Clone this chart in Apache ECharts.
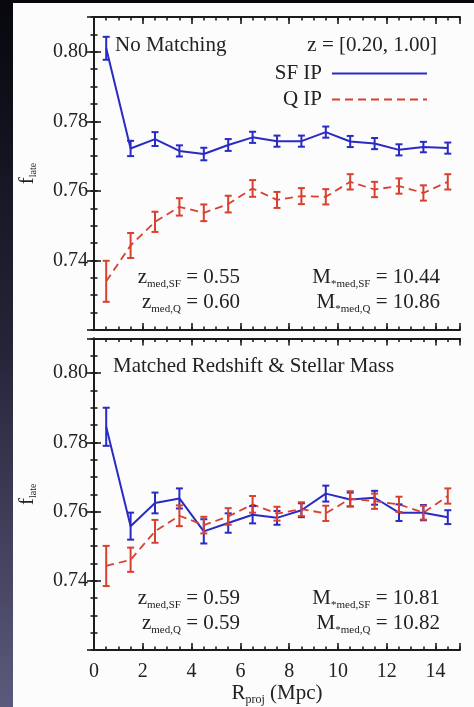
<!DOCTYPE html>
<html>
<head>
<meta charset="utf-8">
<script src="https://cdn.jsdelivr.net/npm/echarts@6/dist/echarts.min.js"></script>
<style>
  html, body { margin: 0; padding: 0; background: #0b0b12; }
  #chart { width: 474px; height: 707px; }
</style>
</head>
<body>
<div id="chart"></div>
<script>
// Projected separation bins (Mpc)
const rProj = [0.5, 1.5, 2.5, 3.5, 4.5, 5.5, 6.5, 7.5, 8.5, 9.5, 10.5, 11.5, 12.5, 13.5, 14.5];

// Upper panel: no matching
const sfNoMatch    = [0.8010, 0.7722, 0.7749, 0.7715, 0.7706, 0.7732, 0.7754, 0.7743, 0.7743, 0.7769, 0.7742, 0.7736, 0.7718, 0.7726, 0.7723];
const sfNoMatchErr = [0.0033, 0.0022, 0.0020, 0.0016, 0.0018, 0.0017, 0.0016, 0.0016, 0.0016, 0.0016, 0.0016, 0.0016, 0.0016, 0.0015, 0.0016];
const qNoMatch     = [0.7340, 0.7443, 0.7511, 0.7554, 0.7537, 0.7562, 0.7607, 0.7574, 0.7585, 0.7583, 0.7626, 0.7604, 0.7614, 0.7594, 0.7626];
const qNoMatchErr  = [0.0059, 0.0036, 0.0029, 0.0025, 0.0024, 0.0024, 0.0024, 0.0023, 0.0023, 0.0022, 0.0022, 0.0022, 0.0022, 0.0022, 0.0022];

// Lower panel: matched redshift & stellar mass
const sfMatched    = [0.7845, 0.7558, 0.7625, 0.7638, 0.7543, 0.7567, 0.7591, 0.7582, 0.7604, 0.7652, 0.7635, 0.7640, 0.7597, 0.7597, 0.7584];
const sfMatchedErr = [0.0055, 0.0039, 0.0030, 0.0029, 0.0035, 0.0028, 0.0025, 0.0020, 0.0020, 0.0023, 0.0020, 0.0020, 0.0024, 0.0022, 0.0020];
const qMatched     = [0.7443, 0.7461, 0.7543, 0.7588, 0.7561, 0.7586, 0.7621, 0.7594, 0.7607, 0.7595, 0.7637, 0.7630, 0.7621, 0.7597, 0.7645];
const qMatchedErr  = [0.0058, 0.0035, 0.0033, 0.0030, 0.0024, 0.0024, 0.0024, 0.0020, 0.0020, 0.0022, 0.0022, 0.0022, 0.0022, 0.0020, 0.0022];

// Tick labels
const xTickLabels = ['0', '2', '4', '6', '8', '10', '12', '14'];
const yTickLabels = ['0.74', '0.76', '0.78', '0.80'];

// Panel annotations
const panelTitles = ['No Matching', 'Matched Redshift & Stellar Mass'];
const redshiftRange = 'z = [0.20, 1.00]';
const zMedSF = ['0.55', '0.59'];
const zMedQ  = ['0.60', '0.59'];
const mMedSF = ['10.44', '10.81'];
const mMedQ  = ['10.86', '10.82'];

const FONT = "'Liberation Serif', 'Times New Roman', serif";
const INK = '#222';
const AXIS = '#1c1c1c';
const BLUE = '#2a2ac4';
const RED = '#d8402f';

const GRID_LEFT = 94, GRID_W = 366, GRID_H = 313;
const GRID_TOPS = [17, 338.5];

const chart = echarts.init(document.getElementById('chart'), null, { renderer: 'canvas' });

function xAxesFor(g, withLabels) {
  const base = { type: 'value', gridIndex: g, min: 0, max: 15, splitLine: { show: false } };
  const line = { show: true, lineStyle: { color: AXIS, width: 2 } };
  const major = { show: true, inside: true, length: 7, lineStyle: { color: AXIS, width: 1.6 } };
  const minor = { show: true, inside: true, length: 3.5, lineStyle: { color: AXIS, width: 1.6 } };
  return [
    Object.assign({}, base, {
      position: 'bottom', interval: 2, axisLine: line, axisTick: major,
      axisLabel: {
        show: withLabels, margin: 12, fontFamily: FONT, fontSize: 20, color: INK,
        formatter: v => xTickLabels.includes(String(v)) ? String(v) : ''
      },
      name: withLabels ? '{m|R}{s|proj}{m| (Mpc)}' : '',
      nameLocation: 'middle', nameGap: 26,
      nameTextStyle: {
        rich: {
          m: { fontFamily: FONT, fontSize: 21, color: INK },
          s: { fontFamily: FONT, fontSize: 12, color: INK, padding: [13, 0, 0, 0] }
        }
      }
    }),
    Object.assign({}, base, { position: 'bottom', interval: 0.5, axisLine: { show: false }, axisTick: minor, axisLabel: { show: false } }),
    Object.assign({}, base, { position: 'top', interval: 2, axisLine: line, axisTick: major, axisLabel: { show: false } }),
    Object.assign({}, base, { position: 'top', interval: 0.5, axisLine: { show: false }, axisTick: minor, axisLabel: { show: false } })
  ];
}

function yAxesFor(g) {
  const base = { type: 'value', gridIndex: g, min: 0.72, max: 0.81, splitLine: { show: false }, scale: true };
  const line = { show: true, lineStyle: { color: AXIS, width: 2 } };
  const major = { show: true, inside: true, length: 7, lineStyle: { color: AXIS, width: 1.6 } };
  const minor = { show: true, inside: true, length: 3.5, lineStyle: { color: AXIS, width: 1.6 } };
  return [
    Object.assign({}, base, {
      position: 'left', interval: 0.02, axisLine: line, axisTick: major,
      axisLabel: {
        margin: 6, fontFamily: FONT, fontSize: 20, color: INK,
        formatter: v => { const s = v.toFixed(2); return yTickLabels.includes(s) ? s : ''; }
      },
      name: '{m|f}{s|late}', nameLocation: 'middle', nameRotate: 90, nameGap: 56,
      nameTextStyle: {
        rich: {
          m: { fontFamily: FONT, fontSize: 21, color: INK },
          s: { fontFamily: FONT, fontSize: 10, color: INK, padding: [12, 0, 0, 0] }
        }
      }
    }),
    Object.assign({}, base, { position: 'left', interval: 0.005, axisLine: { show: false }, axisTick: minor, axisLabel: { show: false } }),
    Object.assign({}, base, { position: 'right', interval: 0.02, axisLine: line, axisTick: major, axisLabel: { show: false } }),
    Object.assign({}, base, { position: 'right', interval: 0.005, axisLine: { show: false }, axisTick: minor, axisLabel: { show: false } })
  ];
}

function pairs(values) { return rProj.map((x, i) => [x, values[i]]); }
function triples(values, errs) { return rProj.map((x, i) => [x, values[i], errs[i]]); }

function lineSeries(name, g, values, color, dashed) {
  return {
    name, type: 'line', xAxisIndex: g * 4, yAxisIndex: g * 4,
    data: pairs(values), symbol: 'none', z: 3,
    lineStyle: { color, width: dashed ? 1.8 : 2, type: dashed ? [8, 5] : 'solid' },
    itemStyle: { color }
  };
}

function errorSeries(g, values, errs, color) {
  return {
    type: 'custom', xAxisIndex: g * 4, yAxisIndex: g * 4, z: 4,
    data: triples(values, errs), encode: { x: 0, y: 1 },
    renderItem: (params, api) => {
      const x = api.value(0), y = api.value(1), e = api.value(2);
      const hi = api.coord([x, y + e]);
      const lo = api.coord([x, y - e]);
      const cap = 3.5;
      const style = { stroke: color, lineWidth: 2 };
      return {
        type: 'group',
        children: [
          { type: 'line', shape: { x1: hi[0], y1: hi[1], x2: lo[0], y2: lo[1] }, style },
          { type: 'line', shape: { x1: hi[0] - cap, y1: hi[1], x2: hi[0] + cap, y2: hi[1] }, style },
          { type: 'line', shape: { x1: lo[0] - cap, y1: lo[1], x2: lo[0] + cap, y2: lo[1] }, style }
        ]
      };
    }
  };
}

const richText = {
  m: { fontFamily: FONT, fontSize: 21, fill: INK },
  s: { fontFamily: FONT, fontSize: 11, fill: INK, padding: [14, 0, 0, 0] }
};

function label(text, x, y, align) {
  return {
    type: 'text', z: 50,
    style: { text, x, y, align: align || 'left', verticalAlign: 'middle', rich: richText, font: '21px ' + FONT, fill: INK }
  };
}

const graphics = [
  { type: 'rect', z: -100, shape: { x: 13, y: 3, width: 461, height: 704 }, style: { fill: '#fcfcfc' } }
];
GRID_TOPS.forEach((top, g) => {
  const rowA = top + 260, rowB = top + 285;
  graphics.push(label('{m|' + panelTitles[g] + '}', g === 0 ? 115 : 113, top + 28));
  graphics.push(label('{m|z}{s|med,SF}{m| = ' + zMedSF[g] + '}', 240, rowA, 'right'));
  graphics.push(label('{m|z}{s|med,Q}{m| = ' + zMedQ[g] + '}', 240, rowB, 'right'));
  graphics.push(label('{m|M}{s|*med,SF}{m| = ' + mMedSF[g] + '}', 440, rowA, 'right'));
  graphics.push(label('{m|M}{s|*med,Q}{m| = ' + mMedQ[g] + '}', 440, rowB, 'right'));
});
graphics.push(label('{m|' + redshiftRange + '}', 437, 45, 'right'));

chart.setOption({
  animation: false,
  backgroundColor: {
    type: 'linear', x: 0, y: 0, x2: 0, y2: 1,
    colorStops: [
      { offset: 0, color: '#07070d' },
      { offset: 0.5, color: '#25253a' },
      { offset: 1, color: '#5a5a7c' }
    ]
  },
  grid: GRID_TOPS.map(top => ({ left: GRID_LEFT, top, width: GRID_W, height: GRID_H })),
  xAxis: [...xAxesFor(0, false), ...xAxesFor(1, true)],
  yAxis: [...yAxesFor(0), ...yAxesFor(1)],
  legend: {
    data: ['SF IP', 'Q IP'], orient: 'vertical', align: 'right',
    right: 46, top: 63, padding: 0, itemWidth: 95, itemHeight: 14, itemGap: 5,
    selectedMode: false,
    itemStyle: { opacity: 0 },
    textStyle: { fontFamily: FONT, fontSize: 21, color: INK, padding: [0, 5, 0, 0] }
  },
  graphic: graphics,
  series: [
    lineSeries('SF IP', 0, sfNoMatch, BLUE, false),
    lineSeries('Q IP', 0, qNoMatch, RED, true),
    errorSeries(0, sfNoMatch, sfNoMatchErr, BLUE),
    errorSeries(0, qNoMatch, qNoMatchErr, RED),
    lineSeries('SF IP', 1, sfMatched, BLUE, false),
    lineSeries('Q IP', 1, qMatched, RED, true),
    errorSeries(1, sfMatched, sfMatchedErr, BLUE),
    errorSeries(1, qMatched, qMatchedErr, RED)
  ]
});
</script>
</body>
</html>
